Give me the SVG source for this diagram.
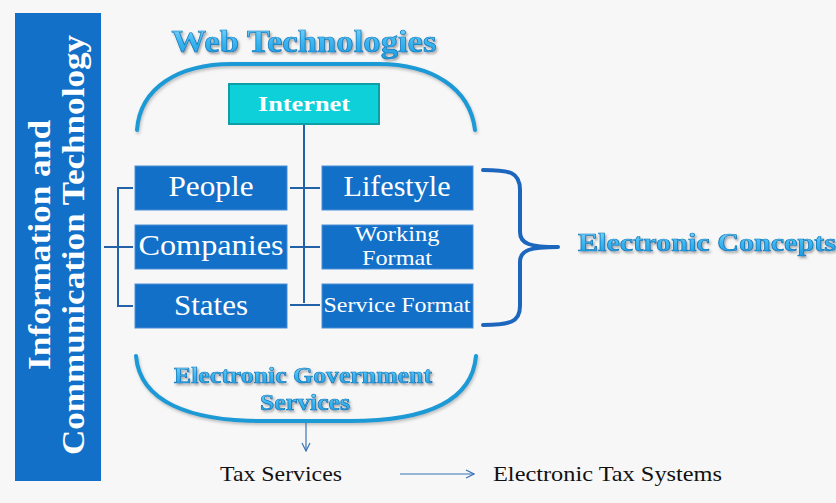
<svg xmlns="http://www.w3.org/2000/svg" width="836" height="503" viewBox="0 0 836 503">
<defs>
<style>
.box{fill:#1270C8;stroke:#4A8FD6;stroke-width:1}
.bt{font-family:"Liberation Serif",serif;fill:#fff;text-anchor:middle}
.conn{fill:none;stroke:#2362A8;stroke-width:2}
.brace{fill:none;stroke:#1C66BE;stroke-width:4;stroke-linecap:round;stroke-linejoin:round}
.thin{fill:none;stroke:#3A72B8;stroke-width:1.2}
.arc{fill:none;stroke:#1C9AD6;stroke-width:4;stroke-linecap:round}
.title{font-family:"Liberation Serif",serif;font-weight:bold;fill:url(#tg);stroke:#0F78BA;stroke-width:0.7;filter:url(#sh)}
.blk{font-family:"Liberation Serif",serif;fill:#111;font-size:22px}
</style>
<linearGradient id="tg" x1="0" y1="0" x2="0" y2="1">
<stop offset="0" stop-color="#8EDDFC"/>
<stop offset="0.5" stop-color="#3DB8F2"/>
<stop offset="1" stop-color="#1C9AE0"/>
</linearGradient>
<filter id="sh" x="-10%" y="-30%" width="120%" height="160%">
<feDropShadow dx="1.5" dy="2" stdDeviation="1.2" flood-color="#555" flood-opacity="0.5"/>
</filter>
<filter id="bs" x="-10%" y="-10%" width="120%" height="130%">
<feDropShadow dx="1" dy="2" stdDeviation="1.5" flood-color="#666" flood-opacity="0.4"/>
</filter>
<marker id="arr" viewBox="0 0 10 10" refX="9" refY="5" markerWidth="10" markerHeight="10" markerUnits="userSpaceOnUse" orient="auto">
<path d="M1,1 L9,5 L1,9" fill="none" stroke="#3A72B8" stroke-width="1.2"/>
</marker>
</defs>
<rect x="0" y="0" width="836" height="503" fill="#F7F7F7"/>

<g id="ict">
<rect x="15" y="13" width="86" height="468" fill="#1270C8"/>
<text class="bt" font-weight="bold" font-size="31" transform="translate(50,245) rotate(-90)" textLength="250" lengthAdjust="spacingAndGlyphs">Information and</text>
<text class="bt" font-weight="bold" font-size="31" transform="translate(84,245) rotate(-90)" textLength="420" lengthAdjust="spacingAndGlyphs">Communication Technology</text>
</g>

<g id="web-tech">
<path class="arc" filter="url(#bs)" d="M137,130 C140,88 178,64 232,64 L378,64 C432,64 470,88 475,130"/>
<text class="title" x="304" y="52" font-size="32" text-anchor="middle" textLength="265" lengthAdjust="spacingAndGlyphs">Web Technologies</text>
</g>

<g id="connectors">
<line class="conn" x1="304" y1="125" x2="304" y2="303"/>
<path class="conn" d="M104,247 H118 M133,188 H118 V306 H133 M118,247 H133"/>
<path class="conn" d="M290,188 H320 M290,247 H320 M290,305 H320"/>
<path class="brace" d="M483,170 C510,170 520,172 520,190 V232 C520,244 530,247 558,247 C530,247 520,250 520,262 V306 C520,322 510,325 483,325"/>
<line class="thin" x1="306" y1="422" x2="306" y2="451" marker-end="url(#arr)"/>
<line class="thin" x1="400" y1="474" x2="474" y2="474" marker-end="url(#arr)"/>
</g>

<g id="internet">
<rect x="229" y="84" width="150" height="40" fill="#0ED0D8" stroke="#0E9EA5" stroke-width="2"/>
<text class="bt" x="304" y="111" font-size="22" font-weight="bold" textLength="92" lengthAdjust="spacingAndGlyphs">Internet</text>
</g>

<g id="people">
<rect class="box" x="135" y="166" width="152" height="44"/>
<text class="bt" x="211" y="196" font-size="29" textLength="85" lengthAdjust="spacingAndGlyphs">People</text>
</g>
<g id="companies">
<rect class="box" x="135" y="225" width="152" height="44"/>
<text class="bt" x="211" y="255" font-size="29" textLength="145" lengthAdjust="spacingAndGlyphs">Companies</text>
</g>
<g id="states">
<rect class="box" x="135" y="284" width="152" height="44"/>
<text class="bt" x="211" y="315" font-size="29" textLength="74" lengthAdjust="spacingAndGlyphs">States</text>
</g>
<g id="lifestyle">
<rect class="box" x="322" y="166" width="151" height="44"/>
<text class="bt" x="397" y="196" font-size="29" textLength="107" lengthAdjust="spacingAndGlyphs">Lifestyle</text>
</g>
<g id="working-format">
<rect class="box" x="322" y="225" width="151" height="44"/>
<text class="bt" x="397" y="241" font-size="22" textLength="85" lengthAdjust="spacingAndGlyphs">Working</text>
<text class="bt" x="397" y="265" font-size="22" textLength="70" lengthAdjust="spacingAndGlyphs">Format</text>
</g>
<g id="service-format">
<rect class="box" x="322" y="284" width="151" height="44"/>
<text class="bt" x="397" y="312" font-size="22" textLength="147" lengthAdjust="spacingAndGlyphs">Service Format</text>
</g>

<g id="electronic-concepts">
<text class="title" x="578" y="251" font-size="25" textLength="258" lengthAdjust="spacingAndGlyphs">Electronic Concepts</text>
</g>

<g id="e-gov">
<path class="arc" filter="url(#bs)" d="M136,356 C140,402 190,421 262,421 L350,421 C425,421 472,402 476,356"/>
<text class="title" x="303" y="383" font-size="23" text-anchor="middle" textLength="258" lengthAdjust="spacingAndGlyphs">Electronic Government</text>
<text class="title" x="305" y="410" font-size="23" text-anchor="middle" textLength="90" lengthAdjust="spacingAndGlyphs">Services</text>
</g>

<g id="tax-services">
<text class="blk" x="220" y="481" textLength="122" lengthAdjust="spacingAndGlyphs">Tax Services</text>
</g>
<g id="electronic-tax-systems">
<text class="blk" x="493" y="481" textLength="229" lengthAdjust="spacingAndGlyphs">Electronic Tax Systems</text>
</g>
</svg>
